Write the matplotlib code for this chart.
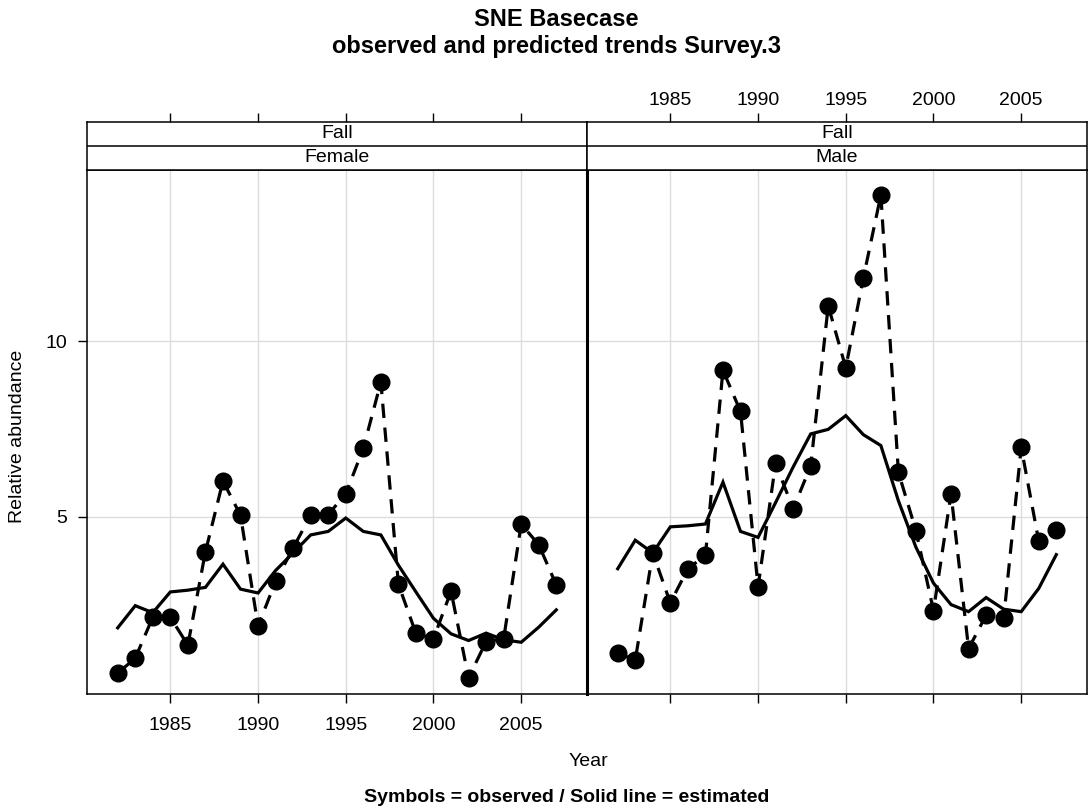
import numpy as np
import matplotlib
matplotlib.use("Agg")
import matplotlib.pyplot as plt

plt.rcParams['font.family'] = ['Liberation Sans', 'DejaVu Sans']

years = list(range(1982, 2008))

female_obs = [0.56, 0.99, 2.15, 2.15, 1.36, 4.01, 6.02, 5.05, 1.90, 3.17,
              4.12, 5.05, 5.07, 5.66, 6.95, 8.83, 3.09, 1.69, 1.54, 2.89,
              0.43, 1.46, 1.54, 4.80, 4.21, 3.07]
female_est = [1.85, 2.48, 2.28, 2.87, 2.92, 3.00, 3.66, 2.95, 2.84, 3.48,
              3.98, 4.49, 4.59, 4.97, 4.59, 4.49, 3.63, 2.87, 2.12, 1.68,
              1.49, 1.70, 1.51, 1.44, 1.87, 2.36]
male_obs = [1.14, 0.93, 3.98, 2.56, 3.53, 3.91, 9.17, 8.00, 3.02, 6.52,
            5.23, 6.45, 11.00, 9.24, 11.79, 14.15, 6.27, 4.61, 2.34, 5.66,
            1.26, 2.21, 2.12, 6.98, 4.31, 4.64]
male_est = [3.53, 4.34, 3.98, 4.72, 4.75, 4.80, 5.99, 4.59, 4.42, 5.41,
            6.42, 7.36, 7.49, 7.88, 7.34, 7.03, 5.46, 4.14, 3.12, 2.51,
            2.31, 2.71, 2.38, 2.31, 2.97, 3.93]

season = "Fall"
panels = [("Female", female_obs, female_est), ("Male", male_obs, male_est)]
xticks = [1985, 1990, 1995, 2000, 2005]
yticks = [5, 10]

FS = 14

W, H = 1088, 810
fig = plt.figure(figsize=(W / 100, H / 100), dpi=100)

def box(x0, y0, x1, y1):
    # pixel box (top-left origin) -> figure fraction rect
    return [x0 / W, (H - y1) / H, (x1 - x0) / W, (y1 - y0) / H]

xlim = (1980.25, 2008.75)
ylim = (-0.03, 14.86)
lefts = [87, 587]
pw = 500

for i, (sex, obs, est) in enumerate(panels):
    x0 = lefts[i]
    ax = fig.add_axes(box(x0, 170, x0 + pw, 694))
    ax.set_xlim(xlim)
    ax.set_ylim(ylim)
    ax.set_xticks(xticks)
    ax.set_yticks(yticks)
    ax.grid(True, color='#dcdcdc', linewidth=1.0)
    ax.set_axisbelow(True)
    ax.plot(years, est, color='black', linewidth=2.3, solid_joinstyle='miter')
    ax.plot(years, obs, color='black', linewidth=2.3, dashes=(4.5, 3.0))
    ax.plot(years, obs, 'o', color='black', markersize=12)
    for s in ax.spines.values():
        s.set_linewidth(1.1)
    if i == 1:
        ax.spines['left'].set_linewidth(2.2)
    ax.tick_params(direction='out', length=6.5, width=1.0, labelsize=FS,
                   colors='black')
    ax.tick_params(axis='x', pad=10)
    ax.tick_params(axis='y', pad=8)
    if i == 0:
        ax.tick_params(axis='x', labelbottom=True)
        ax.tick_params(axis='y', left=True, right=False, labelleft=True)
    else:
        ax.tick_params(axis='x', labelbottom=False)
        ax.tick_params(axis='y', left=False, right=True, labelleft=False,
                       labelright=False)

    # strips (two rows) with top axis ticks
    st = fig.add_axes(box(x0, 122, x0 + pw, 170))
    st.set_xlim(xlim)
    st.set_ylim(0, 2)
    st.axhline(1, color='black', linewidth=1.1)
    st.text(np.mean(xlim), 1.5, season, ha='center', va='center', fontsize=FS)
    st.text(np.mean(xlim), 0.5, sex, ha='center', va='center', fontsize=FS)
    st.set_yticks([])
    st.set_xticks(xticks)
    st.tick_params(axis='x', bottom=False, labelbottom=False, top=True,
                   labeltop=(i == 1), direction='out', length=6.5, width=1.0,
                   labelsize=FS, pad=3)
    for s in st.spines.values():
        s.set_linewidth(1.1)

fig.text(556 / W, 1 - 20 / H, "SNE Basecase", ha='center', va='center',
         fontsize=17, fontweight='bold')
fig.text(556 / W, 1 - 46 / H, "observed and predicted trends Survey.3",
         ha='center', va='center', fontsize=17, fontweight='bold')
fig.text(588 / W, 1 - 761 / H, "Year", ha='center', va='center', fontsize=FS)
fig.text(18 / W, 1 - 436 / H, "Relative abundance", ha='center',
         va='center', rotation=90, fontsize=FS)
fig.text(567 / W, 1 - 797 / H, "Symbols = observed / Solid line = estimated",
         ha='center', va='center', fontsize=FS, fontweight='bold')

fig.savefig("out.png", dpi=100)
